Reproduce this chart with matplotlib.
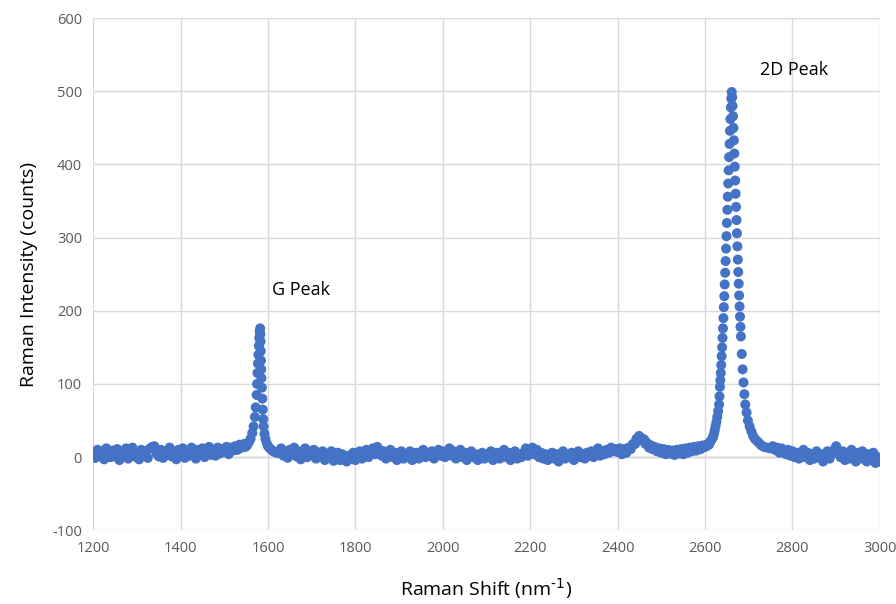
import numpy as np
import matplotlib
matplotlib.use("Agg")
import matplotlib.pyplot as plt

plt.rcParams['font.family'] = ['Open Sans', 'DejaVu Sans']
plt.rcParams['axes.unicode_minus'] = False

# baseline before G peak (shift step 5)
shift_a = list(range(1200, 1550, 5))
count_a = [7, -1, 10, 2, 8, -3, 12, 4, 0, 9, 1, 11, -4, 6, 3, 12, -2, 8, 13, 1,
           6, -3, 10, 3, 8, -1, 12, 14, 15, 5, 1, 10, -1, 8, 3, 13, 1, 6, -3, 10,
           4, 12, -1, 8, 2, 13, 5, -2, 10, 4, 12, 0, 8, 14, 3, 10, 2, 13, 5, 11,
           7, 14, 4, 13, 9, 15, 10, 17, 13, 18]

# G peak
shift_g = [1548, 1552, 1556, 1560, 1564, 1567, 1570, 1572, 1574, 1575, 1576,
           1577, 1578, 1579, 1580, 1581, 1582, 1582.5, 1583, 1583.5, 1584,
           1584.5, 1585, 1586, 1587, 1588, 1589, 1590, 1592, 1594, 1597, 1600,
           1604, 1608, 1612, 1616, 1620]
count_g = [14, 16, 20, 25, 33, 42, 55, 68, 85, 100, 115, 128, 140, 152, 163,
           172, 176, 168, 158, 145, 132, 120, 108, 95, 80, 65, 52, 42, 32, 25,
           19, 15, 12, 10, 8, 7, 6]

# middle baseline
shift_b = list(range(1625, 2400, 5))
count_b = [6, 12, 2, 8, -1, 10, 4, 13, 1, 8, -3, 6, 12, 0, 8, 4, 10, -2, 6, 2,
           8, -4, 4, 0, 8, -5, 2, 6, -4, 4, 0, -6, 2, -2, 6, -4, 2, 8, -2, 4,
           10, 0, 6, 12, 4, 14, 10, 2, 8, -2, 4, 10, 0, 6, -4, 2, 8, -2, 4, 0,
           8, -4, 2, 6, -2, 4, 10, 0, 6, 2, 8, -2, 4, 10, 2, 8, 0, 6, 12, 2,
           8, -2, 4, 10, 0, 6, -4, 2, 8, 0, 4, -4, 2, 6, -2, 4, 0, 8, -4, 2,
           6, -2, 4, 10, 0, 6, -4, 2, 8, -2, 4, 0, 6, 12, 2, 8, 13, 4, 10, 0,
           6, -2, 4, -4, 2, 6, -2, 4, -6, 2, 8, -2, 4, 0, 6, -4, 2, 8, 0, 4,
           -2, 6, 2, 8, 0, 6, 12, 2, 8, 4, 10, 6, 13, 8, 11]

# small bump near 2450 and rise to 2D
shift_c = [2400, 2405, 2410, 2415, 2420, 2425, 2430, 2435, 2440, 2443, 2446,
           2449, 2452, 2455, 2458, 2461, 2464, 2468, 2472, 2476, 2480, 2485,
           2490, 2495, 2500, 2505, 2510, 2515, 2520, 2525, 2530, 2535, 2540,
           2545, 2550, 2555, 2560, 2565, 2570, 2575, 2580, 2585, 2590, 2595,
           2600]
count_c = [7, 12, 4, 11, 6, 13, 11, 18, 18, 25, 23, 29, 24, 26, 22, 24, 18, 19,
           13, 16, 11, 14, 8, 12, 6, 11, 4, 10, 5, 9, 3, 10, 5, 11, 4, 12, 6,
           13, 8, 14, 9, 15, 11, 16, 14]

# 2D peak
shift_2d = [2603, 2606, 2609, 2612, 2615, 2618, 2620, 2622, 2624, 2626, 2628,
            2630, 2632, 2633, 2634, 2635, 2636, 2637, 2638, 2639, 2640, 2641,
            2642, 2643, 2644, 2645, 2646, 2647, 2648, 2649, 2650, 2651, 2652,
            2653, 2654, 2655, 2656, 2657, 2658, 2659, 2660, 2661, 2662, 2663,
            2664, 2665, 2666, 2667, 2668, 2669, 2670, 2671, 2672, 2673, 2674,
            2675, 2676, 2677, 2678, 2679, 2680, 2681, 2682, 2684, 2686, 2688,
            2690, 2692, 2695, 2698, 2702, 2706, 2710, 2714, 2719, 2724, 2729,
            2735, 2742]
count_2d = [15, 18, 17, 21, 24, 27, 31, 36, 42, 48, 55, 63, 72, 83, 96, 105,
            115, 126, 138, 150, 163, 176, 190, 205, 220, 236, 252, 268, 285,
            302, 320, 338, 356, 374, 392, 410, 428, 446, 462, 478, 490, 499,
            492, 480, 466, 450, 433, 415, 397, 378, 360, 342, 324, 306, 288,
            270, 253, 237, 221, 206, 192, 178, 165, 141, 120, 102, 86, 72, 61,
            50, 42, 35, 29, 25, 22, 19, 16, 14, 13]

# tail baseline
shift_d = list(range(2750, 3001, 5))
count_d = [12, 15, 10, 13, 6, 12, 8, 4, 10, 2, 8, 0, 6, -2, 4, 10, 0, 6, -4, 4,
           -2, 8, 0, 4, -6, 2, 8, -2, 4, 10, 15, 6, 0, 8, -4, 4, -2, 10, 2, -6,
           6, -2, 8, 0, -6, 4, -4, 6, -8, 0, -6]

shift = shift_a + shift_g + shift_b + shift_c + shift_2d + shift_d
count = count_a + count_g + count_b + count_c + count_2d + count_d

fig = plt.figure(figsize=(8.96, 6.04), dpi=100)
ax = fig.add_axes([0.104, 0.122, 0.878, 0.848])

ax.scatter(shift, count, s=52, color='#4472C4', edgecolors='none', zorder=3)

ax.set_xlim(1200, 3000)
ax.set_ylim(-100, 600)
ax.set_xticks(np.arange(1200, 3001, 200))
ax.set_yticks(np.arange(-100, 601, 100))
ax.grid(True, color='#D9D9D9', linewidth=1)
ax.axhline(0, color='#BFBFBF', linewidth=1, zorder=1)
for s in ax.spines.values():
    s.set_visible(False)
ax.tick_params(length=0, labelsize=10.5, colors='#595959', pad=8)

ax.set_xlabel(r'Raman Shift (nm$^{\text{-1}}$)', fontsize=14, labelpad=14)
ax.set_ylabel('Raman Intensity (counts)', fontsize=14, labelpad=10)

ax.text(1610, 222, 'G Peak', fontsize=13)
ax.text(2725, 522, '2D Peak', fontsize=13)

fig.savefig('out.png', dpi=100)
